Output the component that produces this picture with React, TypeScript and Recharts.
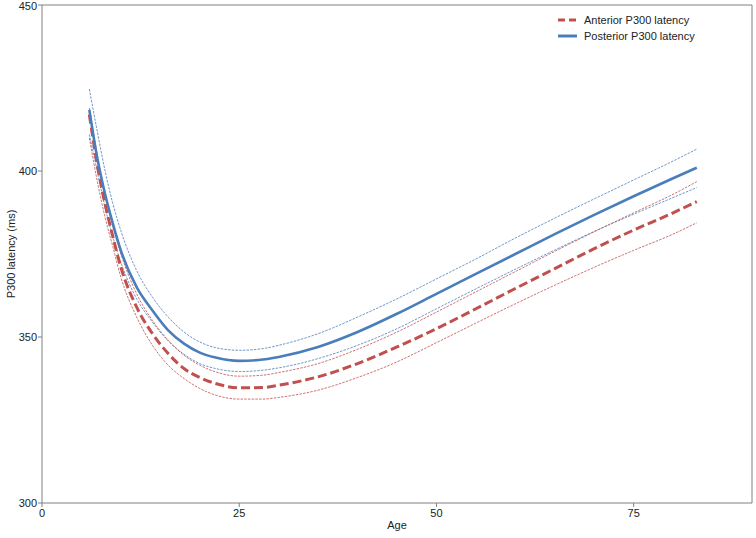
import React from 'react';
import { LineChart, Line, XAxis, YAxis, ReferenceLine } from 'recharts';

const ages = [6, 7, 8, 9, 10, 12, 14, 16, 18, 20, 22, 25, 28, 30, 35, 40, 45, 50, 55, 60, 65, 70, 75, 80, 83];
const posterior = [418.4, 404, 393, 384, 376, 365, 358, 352, 348, 345.3, 343.8, 342.8, 343.2, 344, 347, 351.5, 357, 363, 369, 375, 381, 386.8, 392.4, 397.8, 401];
const posteriorUpper = [424.7, 412, 400, 390, 382, 370, 362, 356, 351.5, 348.5, 346.8, 346, 346.5, 347.5, 351, 356, 361.5, 367.5, 373.5, 379.8, 385.8, 391.6, 397.3, 403, 406.6];
const posteriorLower = [411, 400, 389, 380, 372.5, 361.5, 354.5, 348.8, 344.8, 342, 340.5, 339.6, 340, 340.7, 343.5, 347.5, 352.5, 358.5, 364.5, 370.4, 376.2, 381.8, 387, 392, 395];
const anterior = [417, 402, 390, 380, 371, 359, 351, 345, 340.5, 337.8, 336, 334.7, 334.8, 335.5, 338, 342, 347, 352.5, 358.5, 364.6, 370.6, 376.6, 382.2, 387.4, 390.8];
const anteriorUpper = [419, 405, 393, 383, 375, 363, 355, 349, 344.5, 341.5, 339.5, 338.2, 338.5, 339.3, 342, 346.3, 351.5, 357.5, 363.6, 369.7, 375.8, 381.7, 387.4, 393, 396.8];
const anteriorLower = [410, 397, 386, 377, 368, 356, 347.5, 341.5, 337.5, 334.5, 332.5, 331.3, 331.3, 331.8, 334, 337.8, 342.5, 348.3, 354.2, 360, 365.6, 371, 376.1, 381, 384.4];

const xTicks = [0, 25, 50, 75];
const yTicks = [300, 350, 400, 450];

const BLUE = '#4A7EBB';
const RED = '#C0504D';
const AXIS = '#808080';
const FONT = 'Arial, "Liberation Sans", Helvetica, sans-serif';

const data = ages.map((a, i) => ({
  age: a,
  posterior: posterior[i],
  posteriorUpper: posteriorUpper[i],
  posteriorLower: posteriorLower[i],
  anterior: anterior[i],
  anteriorUpper: anteriorUpper[i],
  anteriorLower: anteriorLower[i],
}));

const legendItems = [
  { label: 'Anterior P300 latency', color: RED, dash: '7 4' },
  { label: 'Posterior P300 latency', color: BLUE, dash: undefined as string | undefined },
];

const YLabel = () => (
  <text x={15} y={254} transform="rotate(-90 15 254)" textAnchor="middle" fontSize={11} fontFamily={FONT} fill="#222">
    P300 latency (ms)
  </text>
);

const XLabel = () => (
  <text x={397} y={529} textAnchor="middle" fontSize={11} fontFamily={FONT} fill="#222">
    Age
  </text>
);

export default function App() {
  return (
    <div style={{ position: 'absolute', left: 0, top: 0, width: 756, height: 538, background: '#fff' }}>
      <LineChart width={756} height={538} data={data} margin={{ top: 5, right: 4, left: 0, bottom: 0 }}>
        <XAxis
          dataKey="age"
          type="number"
          domain={[0, 90]}
          ticks={xTicks}
          height={35}
          stroke={AXIS}
          tickSize={4}
          tick={{ fontSize: 11, fontFamily: FONT, fill: '#222' }}
          label={<XLabel />}
        />
        <YAxis
          type="number"
          domain={[300, 450]}
          ticks={yTicks}
          width={42}
          stroke={AXIS}
          tickSize={4}
          tickMargin={1}
          tick={{ fontSize: 11, fontFamily: FONT, fill: '#222' }}
          label={<YLabel />}
        />
        <ReferenceLine y={450} stroke={AXIS} strokeWidth={1} />
        <ReferenceLine x={90} stroke={AXIS} strokeWidth={1} />
        <Line dataKey="posteriorUpper" type="monotone" stroke={BLUE} strokeWidth={0.8} strokeDasharray="2.5 1.2" dot={false} isAnimationActive={false} />
        <Line dataKey="posteriorLower" type="monotone" stroke={BLUE} strokeWidth={0.8} strokeDasharray="2.5 1.2" dot={false} isAnimationActive={false} />
        <Line dataKey="anteriorUpper" type="monotone" stroke={RED} strokeWidth={0.8} strokeDasharray="2.5 1.2" dot={false} isAnimationActive={false} />
        <Line dataKey="anteriorLower" type="monotone" stroke={RED} strokeWidth={0.8} strokeDasharray="2.5 1.2" dot={false} isAnimationActive={false} />
        <Line dataKey="anterior" name="Anterior P300 latency" type="monotone" stroke={RED} strokeWidth={3} strokeDasharray="9 4" dot={false} isAnimationActive={false} />
        <Line dataKey="posterior" name="Posterior P300 latency" type="monotone" stroke={BLUE} strokeWidth={2.6} dot={false} isAnimationActive={false} />
      </LineChart>
      <svg width={200} height={40} style={{ position: 'absolute', left: 555, top: 12 }}>
        {legendItems.map((it, i) => (
          <g key={it.label}>
            <line x1={3} x2={22} y1={8 + i * 16} y2={8 + i * 16} stroke={it.color} strokeWidth={3} strokeDasharray={it.dash} />
            <text x={29} y={12 + i * 16} fontSize={11} fontFamily={FONT} fill="#222">{it.label}</text>
          </g>
        ))}
      </svg>
    </div>
  );
}
